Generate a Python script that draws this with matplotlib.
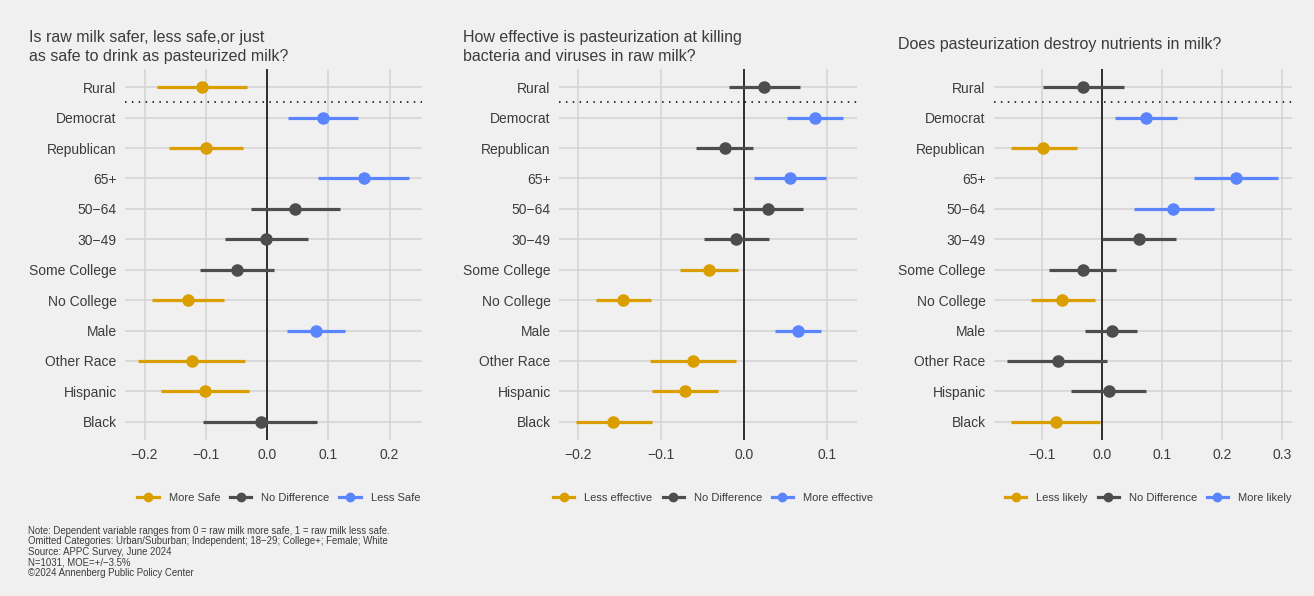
import matplotlib.pyplot as plt
from matplotlib.lines import Line2D

plt.rcParams['font.family'] = ['Liberation Sans', 'DejaVu Sans']

# categories, top to bottom
groups = ['Rural', 'Democrat', 'Republican', '65+', '50\u221264', '30\u221249',
          'Some College', 'No College', 'Male', 'Other Race', 'Hispanic', 'Black']

# panel 1: raw milk safety
safe_est = [-0.106, 0.091, -0.099, 0.158, 0.046, -0.001, -0.049, -0.129, 0.080, -0.123, -0.102, -0.010]
safe_lo = [-0.179, 0.034, -0.160, 0.083, -0.026, -0.068, -0.110, -0.188, 0.033, -0.210, -0.173, -0.104]
safe_hi = [-0.032, 0.149, -0.039, 0.231, 0.119, 0.067, 0.012, -0.071, 0.128, -0.036, -0.030, 0.082]
safe_sig = ['neg', 'pos', 'neg', 'pos', 'ns', 'ns', 'ns', 'neg', 'pos', 'neg', 'neg', 'ns']

# panel 2: effectiveness of pasteurization
eff_est = [0.024, 0.086, -0.023, 0.055, 0.029, -0.010, -0.042, -0.146, 0.065, -0.061, -0.071, -0.158]
eff_lo = [-0.018, 0.052, -0.058, 0.012, -0.013, -0.048, -0.077, -0.179, 0.037, -0.113, -0.111, -0.203]
eff_hi = [0.067, 0.119, 0.011, 0.099, 0.071, 0.030, -0.007, -0.112, 0.093, -0.010, -0.032, -0.111]
eff_sig = ['ns', 'pos', 'ns', 'pos', 'ns', 'ns', 'neg', 'neg', 'pos', 'neg', 'neg', 'neg']

# panel 3: nutrients destroyed
nut_est = [-0.031, 0.073, -0.098, 0.224, 0.119, 0.062, -0.031, -0.066, 0.016, -0.074, 0.011, -0.077]
nut_lo = [-0.099, 0.021, -0.152, 0.154, 0.053, 0.000, -0.088, -0.119, -0.029, -0.158, -0.051, -0.152]
nut_hi = [0.037, 0.126, -0.042, 0.293, 0.187, 0.124, 0.024, -0.012, 0.059, 0.008, 0.074, -0.004]
nut_sig = ['ns', 'pos', 'neg', 'pos', 'pos', 'ns', 'ns', 'neg', 'ns', 'ns', 'ns', 'neg']

colors = {'neg': '#DB9E00', 'ns': '#4D4D4D', 'pos': '#5B84FF'}
bg = '#F0F0F0'
txt = '#3C3C3C'

panels = [
    dict(title='Is raw milk safer, less safe,or just\nas safe to drink as pasteurized milk?',
         est=safe_est, lo=safe_lo, hi=safe_hi, sig=safe_sig,
         xlim=(-0.232, 0.253), ticks=[-0.2, -0.1, 0.0, 0.1, 0.2],
         labels=['More Safe', 'No Difference', 'Less Safe'],
         rect=[125, 69, 422, 440], title_x=29),
    dict(title='How effective is pasteurization at killing\nbacteria and viruses in raw milk?',
         est=eff_est, lo=eff_lo, hi=eff_hi, sig=eff_sig,
         xlim=(-0.223, 0.136), ticks=[-0.2, -0.1, 0.0, 0.1],
         labels=['Less effective', 'No Difference', 'More effective'],
         rect=[559, 69, 857, 440], title_x=463),
    dict(title='Does pasteurization destroy nutrients in milk?',
         est=nut_est, lo=nut_lo, hi=nut_hi, sig=nut_sig,
         xlim=(-0.18, 0.317), ticks=[-0.1, 0.0, 0.1, 0.2, 0.3],
         labels=['Less likely', 'No Difference', 'More likely'],
         rect=[994, 69, 1292, 440], title_x=898),
]

W, H = 1314, 596
fig = plt.figure(figsize=(W / 100, H / 100), dpi=100, facecolor=bg)

n = len(groups)
ypos = [n - 1 - i for i in range(n)]

for p in panels:
    x0, y0, x1, y1 = p['rect']
    ax = fig.add_axes([x0 / W, 1 - y1 / H, (x1 - x0) / W, (y1 - y0) / H])
    ax.set_facecolor(bg)
    for s in ax.spines.values():
        s.set_visible(False)
    ax.set_xlim(*p['xlim'])
    ax.set_ylim(-0.6, n - 0.4)
    ax.set_xticks(p['ticks'])
    ax.set_xticklabels(['\u2212' + f'{abs(t):.1f}' if t < 0 else f'{t:.1f}' for t in p['ticks']])
    ax.set_yticks(ypos)
    ax.set_yticklabels(groups)
    ax.tick_params(length=0, labelsize=10, colors=txt, pad=6)
    ax.grid(True, color='#D2D2D2', lw=1.1)
    ax.set_axisbelow(True)
    ax.axvline(0, color='black', lw=1.1, zorder=2)
    ax.axhline(n - 1.5, color='black', lw=1.1, ls=(0, (1, 3.5)), zorder=2)
    for y, e, l, h, s in zip(ypos, p['est'], p['lo'], p['hi'], p['sig']):
        c = colors[s]
        ax.plot([l, h], [y, y], color=c, lw=2.3, solid_capstyle='butt', zorder=3)
        ax.plot(e, y, 'o', color=c, ms=8, zorder=4)

    if '\n' in p['title']:
        ty = 1 - 30 / H
    else:
        ty = 1 - 37 / H
    fig.text(p['title_x'] / W, ty, p['title'], ha='left', va='top',
             fontsize=11.5, color=txt, linespacing=1.3)

    handles = [Line2D([0], [0], color=colors[k], lw=2.3, marker='o', ms=6)
               for k in ['neg', 'ns', 'pos']]
    cx = (x0 + x1) / 2 / W
    fig.legend(handles, p['labels'], loc='center', bbox_to_anchor=(cx + 0.004, 1 - 498 / H),
               ncol=3, frameon=False, fontsize=8, handlelength=1.9,
               columnspacing=0.9, handletextpad=0.9, labelcolor=txt)

note = ('Note: Dependent variable ranges from 0 = raw milk more safe, 1 = raw milk less safe.\n'
        'Omitted Categories: Urban/Suburban; Independent; 18\u221229; College+; Female; White\n'
        'Source: APPC Survey, June 2024\n'
        'N=1031, MOE=+/\u22123.5%\n'
        '\u00a92024 Annenberg Public Policy Center')
fig.text(28 / W, 1 - 526 / H, note, ha='left', va='top', fontsize=6.9,
         color=txt, linespacing=1.05)

fig.savefig('out.png', dpi=100, facecolor=bg)
